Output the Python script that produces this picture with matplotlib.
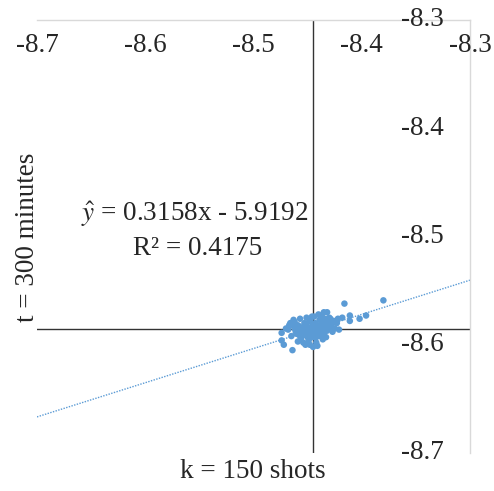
import numpy as np
import matplotlib
matplotlib.use("Agg")
import matplotlib.pyplot as plt
import matplotlib.transforms as mtransforms

plt.rcParams['font.family'] = ['Liberation Serif', 'DejaVu Serif']
plt.rcParams['mathtext.fontset'] = 'stix'

# data (log values)
x_vals = [-8.380, -8.416, -8.396, -8.402, -8.411, -8.411, -8.418, -8.421, -8.430, -8.432,
          -8.435, -8.474, -8.474, -8.472, -8.464, -8.452, -8.445, -8.446, -8.462, -8.464,
          -8.466, -8.462, -8.460, -8.458, -8.456, -8.455, -8.453, -8.452, -8.450, -8.449,
          -8.448, -8.447, -8.446, -8.445, -8.444, -8.443, -8.442, -8.441, -8.440, -8.439,
          -8.438, -8.437, -8.436, -8.435, -8.434, -8.433, -8.432, -8.431, -8.430, -8.429,
          -8.428, -8.427, -8.426, -8.465, -8.459, -8.454, -8.451, -8.444, -8.440, -8.437,
          -8.463, -8.457, -8.468, -8.448, -8.441, -8.436, -8.433, -8.425, -8.423, -8.422,
          -8.461, -8.459, -8.457, -8.455, -8.453, -8.451, -8.449, -8.447, -8.445, -8.443,
          -8.441, -8.439, -8.437, -8.435, -8.433, -8.431, -8.458, -8.454, -8.450, -8.446,
          -8.442, -8.438, -8.434, -8.460, -8.452, -8.444, -8.436, -8.428, -8.467, -8.470]
y_vals = [-8.559, -8.562, -8.573, -8.576, -8.573, -8.578, -8.575, -8.586, -8.575, -8.570,
          -8.570, -8.589, -8.596, -8.600, -8.605, -8.600, -8.602, -8.574, -8.579, -8.582,
          -8.580, -8.585, -8.590, -8.583, -8.594, -8.587, -8.580, -8.591, -8.585, -8.596,
          -8.578, -8.589, -8.583, -8.593, -8.587, -8.580, -8.598, -8.590, -8.584, -8.577,
          -8.592, -8.586, -8.580, -8.589, -8.576, -8.583, -8.587, -8.579, -8.584, -8.576,
          -8.581, -8.588, -8.578, -8.592, -8.597, -8.598, -8.575, -8.574, -8.572, -8.573,
          -8.577, -8.576, -8.586, -8.600, -8.601, -8.595, -8.593, -8.585, -8.580, -8.576,
          -8.588, -8.582, -8.592, -8.584, -8.589, -8.582, -8.590, -8.585, -8.581, -8.590,
          -8.586, -8.582, -8.589, -8.584, -8.580, -8.583, -8.587, -8.590, -8.593, -8.588,
          -8.593, -8.583, -8.585, -8.584, -8.587, -8.584, -8.591, -8.583, -8.582, -8.585]

slope = 0.3158
intercept = -5.9192
r2 = 0.4175

ticks = [-8.7, -8.6, -8.5, -8.4, -8.3]
x_cross = -8.445   # where the vertical axis sits
y_cross = -8.5855  # where the horizontal axis sits

blue = '#5B9BD5'

fig = plt.figure(figsize=(4.94, 4.91), dpi=100)
ax = fig.add_axes([0.0749, 0.0774, 0.8765, 0.8819])
ax.set_xlim(-8.7, -8.3)
ax.set_ylim(-8.7, -8.3)

for s in ['left', 'bottom']:
    ax.spines[s].set_visible(False)
for s in ['top', 'right']:
    ax.spines[s].set_color('#D9D9D9')
    ax.spines[s].set_linewidth(1.0)
ax.set_xticks([])
ax.set_yticks([])

# axes crossing inside the plot
ax.axhline(y_cross, color='#333333', lw=1.0, zorder=1)
ax.axvline(x_cross, color='#333333', lw=1.0, zorder=1)

# trend line
xx = np.array([-8.7, -8.3])
ax.plot(xx, slope * xx + intercept, ls=(0, (1, 1)), color=blue, lw=1.0, zorder=2)

ax.scatter(x_vals, y_vals, s=22, color=blue, edgecolors='none', zorder=3)

# tick labels, Excel style
tx = mtransforms.blended_transform_factory(ax.transData, ax.transAxes)
ty = mtransforms.blended_transform_factory(ax.transAxes, ax.transData)
for t in ticks:
    ax.text(t, 0.942, f'{t:.1f}', transform=tx, ha='center', va='center',
            fontsize=19.5, color='#262626')
    ax.text(0.891, t, f'{t:.1f}', transform=ty, ha='center', va='center',
            fontsize=19.5, color='#262626')

# equation
ax.text(0.365, 0.552, r'$\hat{y}$ = 0.3158x - 5.9192', transform=ax.transAxes,
        ha='center', va='center', fontsize=19.5, color='#262626')
ax.text(0.372, 0.473, 'R² = %.4f' % r2, transform=ax.transAxes,
        ha='center', va='center', fontsize=19.5, color='#262626')

fig.text(253 / 494, 1 - 472 / 491, 'k = 150 shots', ha='center', va='center',
         fontsize=19.5, color='#262626')
fig.text(28 / 494, 1 - 237 / 491, 't = 300 minutes', ha='center', va='center',
         rotation=90, fontsize=19.5, color='#262626')

fig.savefig('out.png', dpi=100)
